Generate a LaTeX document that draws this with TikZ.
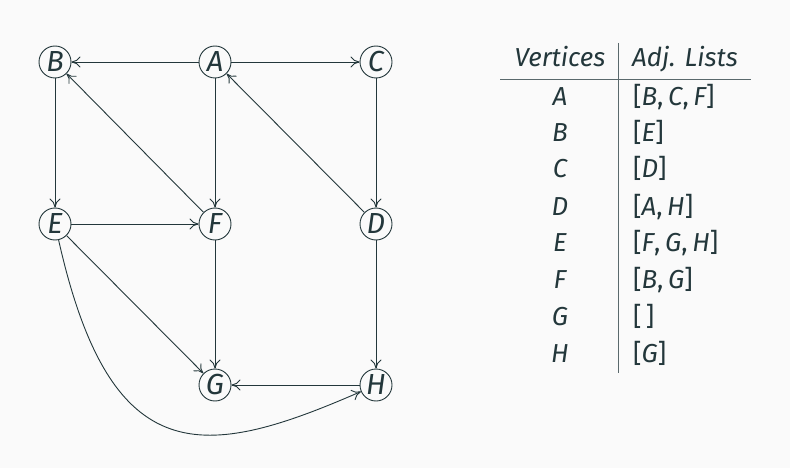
\documentclass[tikz,border=0pt]{standalone}
\usepackage{fontspec}
\setmainfont{Fira Sans}
\usetikzlibrary{arrows.meta}
\definecolor{fg}{HTML}{23373B}
\definecolor{bgc}{HTML}{FAFAFA}
\newcommand{\cm}{{\upshape,}\hspace{0.18em}}
\tikzset{
  vert/.style={circle, draw=fg, line width=0.9pt, minimum size=32pt, inner sep=0pt, text=fg, font=\fontsize{29}{31}\selectfont\itshape},
  edge/.style={draw=fg, line width=0.9pt, -{To[length=9pt,width=11pt]}},
  tabtxt/.style={anchor=base, text=fg, inner sep=0pt, font=\fontsize{26}{28}\selectfont\itshape},
  rule/.style={draw=fg!75, line width=0.9pt}
}
\begin{document}
\begin{tikzpicture}[x=1pt,y=-1pt]
\fill[bgc] (0,0) rectangle (790,468);
\useasboundingbox (0,0) rectangle (790,468);
\node[vert] (B) at (55,62) {B};
\node[vert] (A) at (215,62) {A};
\node[vert] (C) at (376,62) {C};
\node[vert] (E) at (55,224) {E};
\node[vert] (F) at (215,224) {F};
\node[vert] (D) at (376,224) {D};
\node[vert] (G) at (215,385) {G};
\node[vert] (H) at (376,385) {H};
\draw[edge] (A) -- (B);
\draw[edge] (A) -- (C);
\draw[edge] (A) -- (F);
\draw[edge] (B) -- (E);
\draw[edge] (C) -- (D);
\draw[edge] (D) -- (A);
\draw[edge] (D) -- (H);
\draw[edge] (E) -- (F);
\draw[edge] (E) -- (G);
\draw[edge] (E) .. controls (111,473) and (204,460) .. (H);
\draw[edge] (F) -- (B);
\draw[edge] (F) -- (G);
\draw[edge] (H) -- (G);
% table
\coordinate (vt) at (618,43);
\coordinate (vb) at (618,373);
\coordinate (hl) at (500,79);
\coordinate (hr) at (751,79);
\draw[rule] (vt) -- (vb);
\draw[rule] (hl) -- (hr);
\node[tabtxt] (h1) at (560,67) {Vertices};
\node[tabtxt, anchor=base west] (h2) at (632,67) {Adj. Lists};
\node[tabtxt] (ra) at (560,106) {A};
\node[tabtxt] (rb) at (560,142) {B};
\node[tabtxt] (rc) at (560,178) {C};
\node[tabtxt] (rd) at (560,215) {D};
\node[tabtxt] (re) at (560,251) {E};
\node[tabtxt] (rf) at (560,288) {F};
\node[tabtxt] (rg) at (560,325) {G};
\node[tabtxt] (rh) at (560,362) {H};
\node[tabtxt, anchor=base west] (la) at (633,106) {{\upshape[}B\cm C\cm F{\upshape]}};
\node[tabtxt, anchor=base west] (lb) at (633,142) {{\upshape[}E{\upshape]}};
\node[tabtxt, anchor=base west] (lc) at (633,178) {{\upshape[}D{\upshape]}};
\node[tabtxt, anchor=base west] (ld) at (633,215) {{\upshape[}A\cm H{\upshape]}};
\node[tabtxt, anchor=base west] (le) at (633,251) {{\upshape[}F\cm G\cm H{\upshape]}};
\node[tabtxt, anchor=base west] (lf) at (633,288) {{\upshape[}B\cm G{\upshape]}};
\node[tabtxt, anchor=base west] (lg) at (633,325) {{\upshape[\,]}};
\node[tabtxt, anchor=base west] (lh) at (633,362) {{\upshape[}G{\upshape]}};
\end{tikzpicture}
\end{document}
